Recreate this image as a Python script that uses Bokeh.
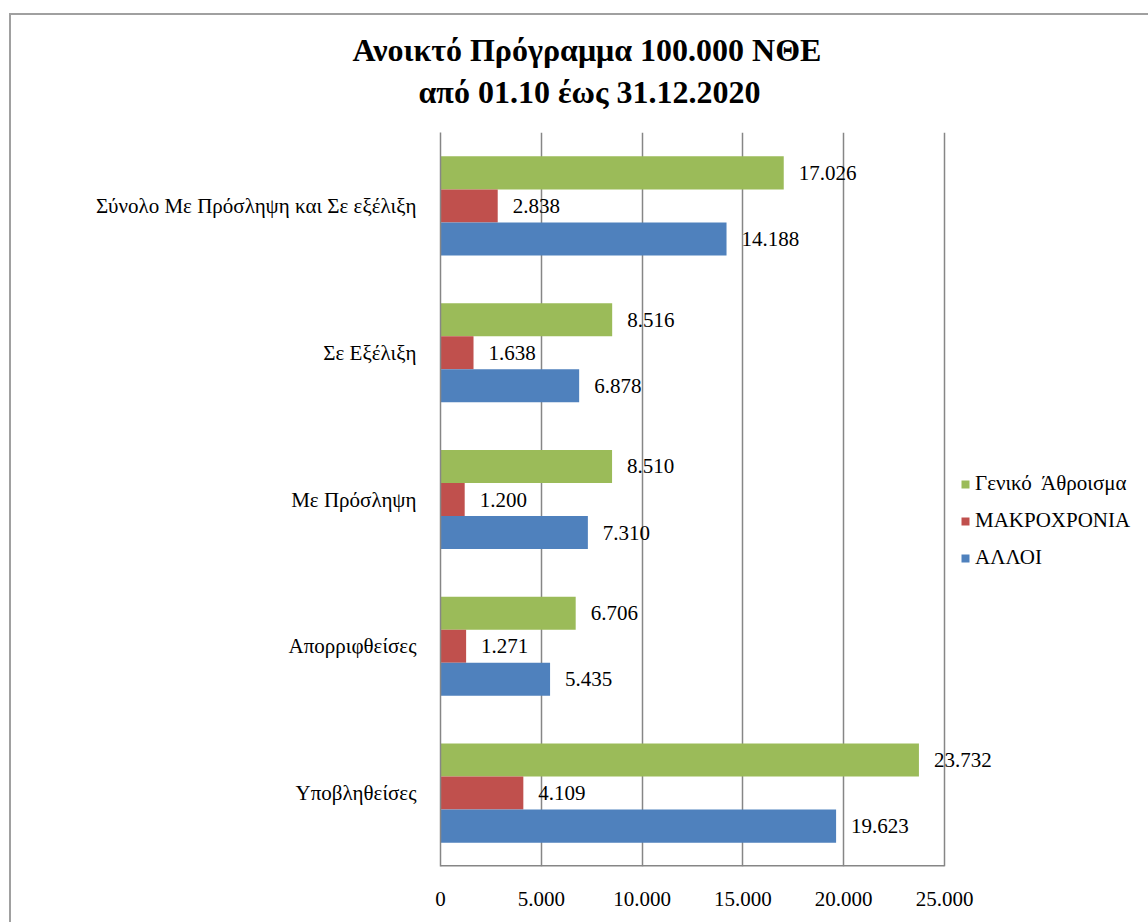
from bokeh.plotting import figure
from bokeh.layouts import column
from bokeh.models import (ColumnDataSource, Range1d, FixedTicker, LabelSet, Legend,
                          LegendItem, Title)
from bokeh.transform import dodge
from bokeh.core.properties import value
from bokeh.embed import file_html
from bokeh.resources import INLINE

title_line1 = "Ανοικτό Πρόγραμμα 100.000 ΝΘΕ"
title_line2 = "από 01.10 έως 31.12.2020"
categories = ["Σύνολο Με Πρόσληψη και Σε εξέλιξη", "Σε Εξέλιξη", "Με Πρόσληψη",
              "Απορριφθείσες", "Υποβληθείσες"]
series_names = ["Γενικό  Άθροισμα", "ΜΑΚΡΟΧΡΟΝΙΑ", "ΑΛΛΟΙ"]
genika = [17026, 8516, 8510, 6706, 23732]
makroxronia = [2838, 1638, 1200, 1271, 4109]
alloi = [14188, 6878, 7310, 5435, 19623]
x_ticks = [0, 5000, 10000, 15000, 20000, 25000]
x_tick_labels = ["0", "5.000", "10.000", "15.000", "20.000", "25.000"]

colors = ["#9BBB59", "#C0504D", "#4F81BD"]
FONT = "Liberation Serif"
GRAY = "#868686"
FS = "21px"


def fmt(v):
    return f"{v:,}".replace(",", ".")


n = len(categories)
ypos = [n - 1 - i + 0.5 for i in range(n)]

src = ColumnDataSource(dict(
    y=ypos, cat=categories,
    g=genika, m=makroxronia, a=alloi,
    gl=[fmt(v) for v in genika], ml=[fmt(v) for v in makroxronia], al=[fmt(v) for v in alloi],
))

# frame: 504 px for the 0..25000 axis, frame extends to the right edge of the canvas
W, H = 1137, 907
ML, MT, MB = 429, 117, 56
px_per_unit = 504 / x_ticks[-1]
x_end = (W - ML) / px_per_unit

p = figure(width=W, height=H, x_range=Range1d(0, x_end), y_range=Range1d(0, n),
           output_backend="svg", toolbar_location=None, title=None,
           min_border_left=ML, min_border_right=0, min_border_top=MT, min_border_bottom=MB)
p.outline_line_color = None
p.background_fill_color = "white"
p.border_fill_color = "white"

bh = 0.225
offsets = [bh, 0.0, -bh]
cols = ["g", "m", "a"]
lcols = ["gl", "ml", "al"]
renderers = []
for col, lcol, off, color in zip(cols, lcols, offsets, colors):
    r = p.hbar(y=dodge("y", off), left=0, right=col, height=bh, source=src,
               fill_color=color, line_color=None)
    renderers.append(r)
    labels = LabelSet(x=col, y=dodge("y", off), text=lcol, source=src, x_offset=15,
                      text_baseline="middle", text_align="left",
                      text_font=value(FONT), text_font_size=FS, text_color="black")
    p.add_layout(labels)

# bottom axis line only from 0 to 25000
p.segment(x0=x_ticks[0], x1=x_ticks[-1], y0=0, y1=0, line_color=GRAY, line_width=3)

# axes
p.xaxis.ticker = FixedTicker(ticks=x_ticks)
p.xaxis.major_label_overrides = {t: l for t, l in zip(x_ticks, x_tick_labels)}
p.xaxis.axis_line_color = None
p.xaxis.major_tick_line_color = None
p.xaxis.minor_tick_line_color = None
p.xaxis.major_label_standoff = 19
p.xaxis.major_label_text_font = FONT
p.xaxis.major_label_text_font_size = FS
p.xaxis.major_label_text_color = "black"

p.yaxis.ticker = FixedTicker(ticks=ypos)
p.yaxis.major_label_overrides = {y: c for y, c in zip(ypos, categories)}
p.yaxis.axis_line_color = GRAY
p.yaxis.axis_line_width = 1.5
p.yaxis.major_tick_line_color = None
p.yaxis.minor_tick_line_color = None
p.yaxis.major_label_standoff = 18
p.yaxis.major_label_text_font = FONT
p.yaxis.major_label_text_font_size = FS
p.yaxis.major_label_text_color = "black"

p.xgrid.ticker = FixedTicker(ticks=x_ticks)
p.xgrid.grid_line_color = GRAY
p.xgrid.grid_line_width = 1.5
p.ygrid.visible = False

# titles: line 2 closest to the frame, then line 1
t2 = Title(text=title_line2, align="left", offset=-22, text_font=FONT,
           text_font_size="32px", text_font_style="bold", text_color="black", standoff=45)
t1 = Title(text=title_line1, align="left", offset=-88, text_font=FONT,
           text_font_size="32px", text_font_style="bold", text_color="black", standoff=-36)
p.add_layout(t2, "above")
p.add_layout(t1, "above")

legend = Legend(items=[LegendItem(label=nm, renderers=[r]) for nm, r in zip(series_names, renderers)],
                location=(520, 296), orientation="vertical",
                border_line_color=None, background_fill_alpha=0,
                label_text_font=FONT, label_text_font_size=FS, label_text_color="black",
                glyph_width=10, glyph_height=10, label_standoff=5, spacing=12,
                padding=0, margin=0, label_height=21)
p.add_layout(legend)

layout = column(p, margin=(13, 0, 0, 9),
                styles={"border-left": "2px solid #A0A0A0", "border-top": "2px solid #A0A0A0"})

open("out.html", "w").write(file_html(layout, INLINE))
